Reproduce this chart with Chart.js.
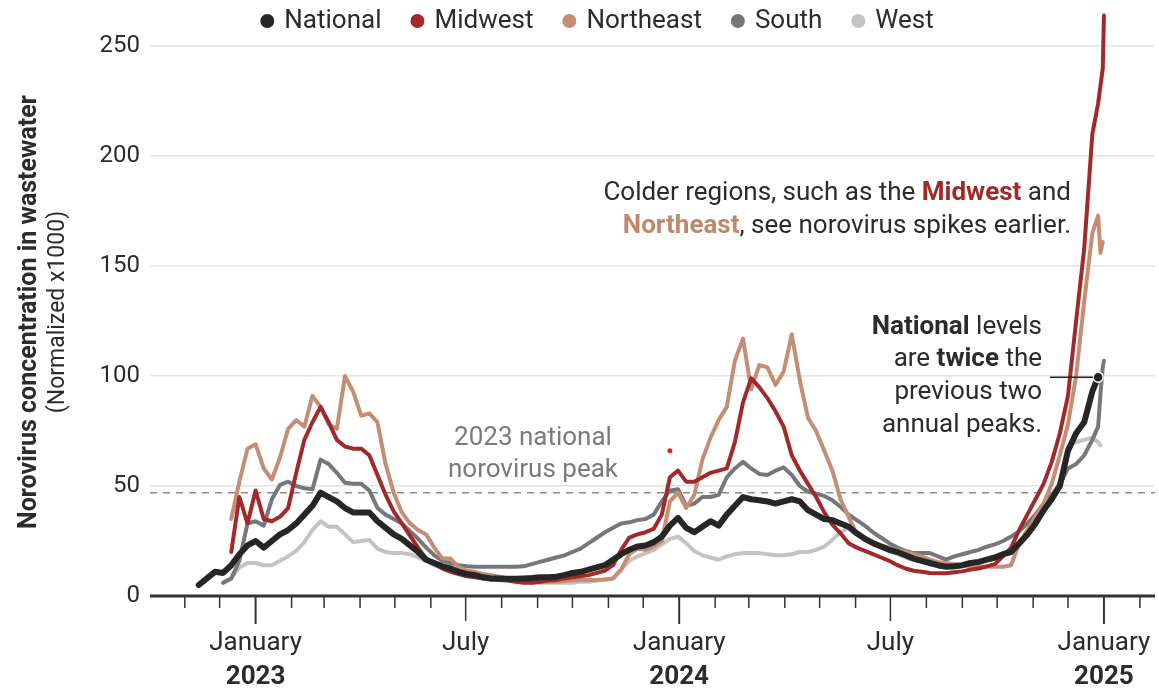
<!DOCTYPE html>
<html>
<head>
<meta charset="utf-8">
<script src="https://cdn.jsdelivr.net/npm/chart.js@4.4.1/dist/chart.umd.min.js"></script>
<style>
  html, body { margin: 0; padding: 0; background: #fff; }
  #wrap { width: 1159px; height: 689px; position: relative; }
</style>
</head>
<body>
<div id="wrap"><canvas id="chart"></canvas></div>
<script>
/* Norovirus in wastewater — weekly readings, normalized x1000 */

// weekly sample dates (Sundays) and the last few daily readings
const firstWeek = "2022-11-13";
const weekCount = 111;
const extraDates = ["2024-12-27", "2024-12-29", "2024-12-31", "2025-01-01"];

const regionNames = ["National", "Midwest", "Northeast", "South", "West"];
const regionColors = ["#262626", "#a1292b", "#c58e74", "#76777b", "#c3c3c3"];

const national = [
  5, 8, 11, 10.5, 14, 19, 23,
  25, 22, 25, 28, 30, 33, 37, 41, 47, 45, 43, 40, 38,
  38, 38, 34, 31, 28, 26, 23, 20, 16.5, 15, 13.5, 12.5, 11,
  10, 9.5, 8.5, 8, 8, 7.8, 7.8, 8, 8.2, 8.5, 8.5, 8.8, 9.5,
  10.5, 11, 12, 13, 14, 16.5, 19, 21, 22.5, 23, 24.5, 27, 32,
  35.5, 31, 29, 31.5, 34, 32, 37, 41, 45, 44, 43.5, 43, 42,
  43, 44, 43, 39, 37, 35, 34.5, 33, 31.5, 28.5, 26, 24, 22.5,
  21, 20, 18.5, 17, 16, 15, 14, 13.3, 13.5, 14, 15, 15.5, 16.5,
  17.5, 19, 20, 24, 28, 33, 39, 44, 50, 66, 74, 79, 93,
  99.5, null, null, null
];
const midwest = [
  null, null, null, null, 20, 45, 33,
  48, 35, 34, 36, 40, 56, 71, 79, 86, 79, 71, 68, 67,
  67, 64, 55, 46, 38.5, 33, 27.5, 22, 17, 14.5, 12.5, 11, 10,
  9, 8.5, 8, 7.5, 7.3, 7, 6.5, 6, 6, 6.5, 7, 7.3, 8,
  8.5, 9, 9.5, 10.5, 11.5, 14, 21, 26.5, 28, 29, 30.5, 37, 54,
  57, 52, 52, 54, 56, 57, 58, 70, 88, 99, 95, 90, 84,
  77, 64, 57, 51, 45, 38, 32.5, 28.5, 24, 22, 20.5, 19, 17.5,
  16, 14, 12.5, 11.5, 11, 10.5, 10.3, 10.3, 10.8, 11.2, 12, 12.5, 13.5,
  14.5, 18, 22, 30, 37, 44, 51, 61, 74, 91, 125, 158, 210,
  224, 232, 240, 264
];
const northeast = [
  null, null, null, null, 35, 52, 67,
  69, 58, 53, 63, 76, 80, 77, 91, 86, 78, 76, 100, 93,
  82, 83, 79, 60, 47, 38, 33, 30, 28, 22, 17, 17, 13,
  11.5, 11, 10, 9.5, 8.8, 8, 7.5, 7, 6.8, 6.5, 6.5, 6.5, 6.8,
  7.2, 7.3, 7.3, 7.3, 7.5, 8, 12, 19, 21.5, 21, 22.5, 25, 43,
  47, 40, 46, 62, 72, 80, 86, 107, 117, 94, 105, 104, 96,
  102, 119, 98, 81, 75, 66, 57, 44, 36, 28, 26.5, 24.5, 23,
  22, 21, 20, 19, 18, 16.5, 15.5, 15, 14.5, 14, 13.5, 13.3, 13.3,
  13.3, 13.3, 14, 24, 30, 36, 42, 51, 64, 78, 100, 134, 165,
  173, 156, 161, null
];
const south = [
  null, null, null, 6, 8, 16, 33,
  34, 32, 44, 50.5, 52, 50, 49, 48.5, 62, 60, 56, 51.5, 51,
  51, 48, 40, 37, 35, 33, 29.5, 26, 22, 18.5, 16, 15, 14,
  13.5, 13.3, 13.3, 13.3, 13.3, 13.3, 13.3, 13.5, 14.5, 15.5, 16.5, 17.5, 18.5,
  20, 21.5, 24, 26.5, 29, 31, 33, 33.5, 34.5, 35, 37, 43, 48,
  48.5, 41, 42, 45, 45, 46, 54, 58, 61, 58, 55.5, 55, 57,
  58.5, 55, 50, 47.5, 46.5, 45.5, 43.5, 40.6, 37, 34.5, 32, 29, 26.5,
  24, 22, 20.5, 19.5, 19.5, 19.5, 18, 16.5, 18, 19, 20, 21, 22.4,
  23.5, 25, 27, 29.5, 33, 37, 42, 46, 51, 58, 60, 64, 71,
  77, 92, 104, 107
];
const west = [
  null, null, null, 6, 8, 13, 15,
  15, 14, 14, 16, 18, 20.5, 24.5, 30, 34, 31.5, 31.5, 28, 24.5,
  25, 25.5, 21.5, 20, 19.5, 19.5, 19, 17.5, 16, 14, 12.6, 12, 11,
  10.5, 9.5, 8.8, 8.5, 8, 7.5, 7, 6.5, 6, 6, 6, 6, 6,
  6, 6.5, 6.5, 7, 7.5, 8, 12, 16, 18, 19.5, 21, 23.5, 26,
  27, 24, 20.5, 18.5, 17.5, 16.5, 18, 19, 19.5, 19.5, 19.5, 19, 18.5,
  18.5, 19, 20, 20, 21, 22.5, 25.5, 29, 31, 29, 26, 24, 22,
  20.5, 19, 17.5, 16.5, 15.5, 14.5, 13.5, 13, 13, 13.5, 14.5, 15, 16,
  17, 18.5, 20, 23, 27, 32, 38, 44, 52, 68, 70, 71, 72,
  70, 68.5, null, null
];
// a lone Midwest reading left off the smoothed line
const midwestStray = [{ date: "2023-12-24", value: 66 }];

const yTicks = [0, 50, 100, 150, 200, 250];
const nationalPeak2023 = 47;
const axisStart = "2022-10-02";
const axisEnd = "2025-02-14";
const monthLabels = { 0: "January", 6: "July" };

/* ---------- helpers ---------- */
const DAY = 86400000;
const EPOCH = Date.UTC(2023, 0, 1);
function dayNum(iso) {
  const [y, m, d] = iso.split("-").map(Number);
  return (Date.UTC(y, m - 1, d) - EPOCH) / DAY;
}
const dates = [];
for (let i = 0; i < weekCount; i++) dates.push(dayNum(firstWeek) + 7 * i);
extraDates.forEach((d) => dates.push(dayNum(d)));

// month ticks, Nov 2022 .. Feb 2025
const monthTicks = [];
for (let y = 2022, m = 10; y < 2025 || m <= 1; ) {
  monthTicks.push({ value: (Date.UTC(y, m, 1) - EPOCH) / DAY, month: m, year: y });
  m++;
  if (m > 11) { m = 0; y++; }
}

const FONT = "Roboto, 'Liberation Sans', sans-serif";
const TEXT = "#2b2b2b";
const font = (size, bold) => `${bold ? "700" : "400"} ${size}px ${FONT}`;

function richLine(ctx, parts, x, y, align, size) {
  let w = 0;
  parts.forEach((p) => { ctx.font = font(size, p.b); w += ctx.measureText(p.t).width; });
  let cx = align === "right" ? x - w : align === "center" ? x - w / 2 : x;
  ctx.textAlign = "left";
  ctx.textBaseline = "middle";
  parts.forEach((p) => {
    ctx.font = font(size, p.b);
    ctx.fillStyle = p.c || TEXT;
    ctx.fillText(p.t, cx, y);
    cx += ctx.measureText(p.t).width;
  });
}

const series = [national, midwest, northeast, south, west];
const lastNational = national.reduce((acc, v, i) => (v != null ? i : acc), 0);

const datasets = series.map((vals, s) => ({
  label: regionNames[s],
  data: dates.map((x, i) => ({ x, y: vals[i] })),
  borderColor: regionColors[s],
  backgroundColor: regionColors[s],
  borderWidth: s === 0 ? 6 : 4,
  pointRadius: s === 0 ? (c) => (c.dataIndex === lastNational ? 5 : 0) : 0,
  pointBackgroundColor: regionColors[s],
  pointBorderColor: "#fff",
  pointBorderWidth: 1.5,
  pointHoverRadius: 0,
  borderJoinStyle: "round",
  borderCapStyle: "round",
  tension: 0,
  spanGaps: true,
}));
datasets.push({
  label: "stray",
  data: midwestStray.map((p) => ({ x: dayNum(p.date), y: p.value })),
  showLine: false,
  pointRadius: 2.5,
  pointBackgroundColor: "#e3211c",
  pointBorderWidth: 0,
});

/* ---------- decorations ---------- */
const decor = {
  id: "decor",
  beforeDatasetsDraw(chart) {
    const { ctx, chartArea: a, scales: { y } } = chart;
    const py = y.getPixelForValue(nationalPeak2023);
    ctx.save();
    ctx.strokeStyle = "#8a8a8a";
    ctx.lineWidth = 1.5;
    ctx.setLineDash([7, 6]);
    ctx.beginPath();
    ctx.moveTo(a.left, py);
    ctx.lineTo(a.right, py);
    ctx.stroke();
    ctx.restore();
  },
  afterDatasetsDraw(chart) {
    const { ctx, chartArea: a, scales: { x } } = chart;
    ctx.save();
    // axis line + month ticks
    ctx.strokeStyle = "#333";
    monthTicks.forEach((t) => {
      const px = x.getPixelForValue(t.value);
      const len = t.month === 0 ? 28 : t.month === 6 ? 25 : 12;
      ctx.lineWidth = t.month === 0 ? 2 : 1.5;
      ctx.beginPath();
      ctx.moveTo(px, a.bottom);
      ctx.lineTo(px, a.bottom + len);
      ctx.stroke();
      const lbl = monthLabels[t.month];
      if (lbl) {
        ctx.fillStyle = TEXT;
        ctx.font = font(26, false);
        ctx.textAlign = "center";
        ctx.textBaseline = "middle";
        ctx.fillText(lbl, px, a.bottom + 47);
        if (t.month === 0) {
          ctx.font = font(26, true);
          ctx.fillText(String(t.year), px, a.bottom + 81);
        }
      }
    });
    ctx.lineWidth = 3;
    ctx.beginPath();
    ctx.moveTo(a.left, a.bottom);
    ctx.lineTo(a.right, a.bottom);
    ctx.stroke();

    // annotations
    richLine(ctx, [{ t: "2023 national", c: "#7a7a7a" }], 533, 438, "center", 26);
    richLine(ctx, [{ t: "norovirus peak", c: "#7a7a7a" }], 533, 470, "center", 26);

    richLine(ctx, [
      { t: "Colder regions, such as the " },
      { t: "Midwest", b: true, c: regionColors[1] },
      { t: " and" },
    ], 1071, 193, "right", 26);
    richLine(ctx, [
      { t: "Northeast", b: true, c: "#c0876c" },
      { t: ", see norovirus spikes earlier." },
    ], 1071, 226, "right", 26);

    richLine(ctx, [{ t: "National", b: true }, { t: " levels" }], 1042, 327, "right", 26);
    richLine(ctx, [{ t: "are " }, { t: "twice", b: true }, { t: " the" }], 1042, 359, "right", 26);
    richLine(ctx, [{ t: "previous two" }], 1042, 392, "right", 26);
    richLine(ctx, [{ t: "annual peaks." }], 1042, 425, "right", 26);

    // leader to the latest national reading
    const pt = chart.getDatasetMeta(0).data[lastNational];
    ctx.strokeStyle = "#222";
    ctx.lineWidth = 1.5;
    ctx.beginPath();
    ctx.moveTo(1050, pt.y);
    ctx.lineTo(pt.x - 5, pt.y);
    ctx.stroke();

    // y axis title
    ctx.translate(0, 312);
    ctx.rotate(-Math.PI / 2);
    ctx.textAlign = "center";
    ctx.textBaseline = "middle";
    ctx.fillStyle = TEXT;
    ctx.font = font(25, true);
    ctx.fillText("Norovirus concentration in wastewater", 0, 30);
    ctx.font = font(23, false);
    ctx.fillText("(Normalized x1000)", 0, 58);
    ctx.restore();

    // legend
    ctx.save();
    ctx.font = font(26, false);
    const r = 7, gap = 10, spacing = 29;
    const widths = regionNames.map((n) => 2 * r + gap + ctx.measureText(n).width);
    const total = widths.reduce((s, w) => s + w, 0) + spacing * (widths.length - 1);
    let lx = 597 - total / 2;
    ctx.textBaseline = "middle";
    ctx.textAlign = "left";
    regionNames.forEach((n, i) => {
      ctx.fillStyle = regionColors[i];
      ctx.beginPath();
      ctx.arc(lx + r, 21, r, 0, Math.PI * 2);
      ctx.fill();
      ctx.fillStyle = TEXT;
      ctx.fillText(n, lx + 2 * r + gap, 21);
      lx += widths[i] + spacing;
    });
    ctx.restore();
  },
};

new Chart(document.getElementById("chart"), {
  type: "line",
  data: { datasets },
  options: {
    responsive: true,
    maintainAspectRatio: false,
    animation: false,
    layout: { padding: { top: 11, right: 0, left: 0, bottom: 0 } },
    plugins: { legend: { display: false }, tooltip: { enabled: false } },
    scales: {
      x: {
        type: "linear",
        min: dayNum(axisStart),
        max: dayNum(axisEnd),
        grid: { display: false },
        border: { display: false },
        ticks: { display: false },
        afterFit: (s) => { s.height = 93; s.paddingLeft = 0; s.paddingRight = 0; },
      },
      y: {
        min: 0,
        max: 266,
        afterBuildTicks: (s) => { s.ticks = yTicks.map((v) => ({ value: v })); },
        grid: { color: "#e3e3e3", lineWidth: 1.5, drawTicks: false },
        border: { display: false },
        ticks: { color: TEXT, font: { family: FONT, size: 24 }, padding: 10 },
        afterFit: (s) => { s.width = 150; s.paddingTop = 0; s.paddingBottom = 0; },
      },
    },
  },
  plugins: [decor],
});
</script>
</body>
</html>
